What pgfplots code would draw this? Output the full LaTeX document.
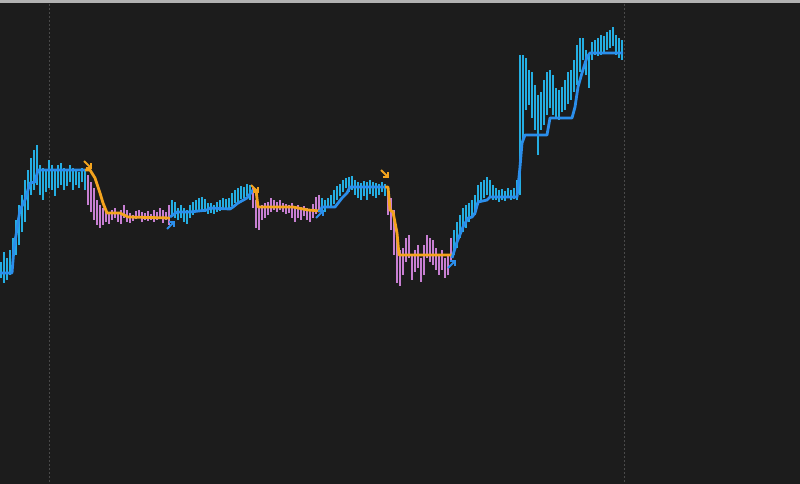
\documentclass[border=0pt]{standalone}
\usepackage{pgfplots}
\usepackage{pgfplotstable}
\pgfplotsset{compat=1.18}
\usetikzlibrary{arrows.meta}
\definecolor{bg}{HTML}{1C1C1C}
\definecolor{cyanb}{HTML}{24AEE2}
\definecolor{violb}{HTML}{C77FD2}
\definecolor{orng}{HTML}{F4A41E}
\definecolor{blu}{HTML}{2B8EEB}
\definecolor{gridc}{HTML}{4A4A4A}

\pgfplotstableread{
x lo hi
1 262 278
4 252 283
7 258 280
10 250 275
13 238 268
16 220 255
19 205 245
22 195 232
25 180 222
28 170 210
31 158 195
34 150 190
37 145 185
40 165 195
43 168 200
46 170 192
49 160 188
52 165 190
55 170 196
58 165 188
61 163 185
64 168 190
67 170 186
70 165 182
73 168 190
76 170 185
79 172 188
82 168 182
85 170 190
172 200 215
175 202 218
178 208 220
181 205 218
184 208 222
187 210 224
190 205 218
193 202 215
196 200 212
199 198 210
202 197 210
205 199 212
208 203 214
211 203 213
214 205 214
217 202 212
220 200 211
223 198 210
226 199 210
229 198 208
232 193 206
235 190 203
238 188 202
241 186 199
244 187 198
247 184 196
250 185 200
322 198 210
325 200 212
328 198 208
331 195 206
334 190 204
337 186 200
340 184 196
343 180 192
346 178 188
349 177 192
352 176 190
355 180 195
358 182 198
361 183 200
364 181 196
367 182 200
370 180 194
373 182 196
376 183 198
379 184 195
382 182 192
385 184 196
454 230 255
457 222 248
460 215 238
463 208 232
466 205 228
469 203 222
472 200 218
475 195 215
478 185 205
481 182 200
484 180 198
487 177 195
490 180 198
493 185 200
496 188 200
499 190 202
502 189 200
505 191 201
508 188 198
511 190 200
514 188 199
517 180 200
520 55 195
523 55 140
526 58 110
529 70 105
532 72 118
535 85 130
538 95 155
541 92 130
544 80 125
547 72 115
550 70 108
553 75 115
556 88 118
559 90 120
562 87 112
565 80 110
568 72 104
571 70 100
574 60 92
577 45 85
580 38 72
583 38 60
586 50 75
589 55 88
592 42 60
595 40 55
598 38 56
601 35 55
604 36 52
607 32 50
610 30 48
613 27 46
616 35 55
619 38 58
622 40 60
}\cyanbars

\pgfplotstableread{
x lo hi
88 175 205
91 182 212
94 188 220
97 200 225
100 205 228
103 208 225
106 210 222
109 212 224
112 210 220
115 208 218
118 212 222
121 210 224
124 205 218
127 210 222
130 213 223
133 215 221
136 211 219
139 210 218
142 212 222
145 213 220
148 211 221
151 214 220
154 210 222
157 212 220
160 208 218
163 210 223
166 212 220
169 205 225
253 188 208
256 200 228
259 208 230
262 205 220
265 203 218
268 202 215
271 198 212
274 200 210
277 202 212
280 200 210
283 203 212
286 204 214
289 205 213
292 203 218
295 207 222
298 205 218
301 207 220
304 206 216
307 208 220
310 210 222
313 204 218
316 197 214
319 195 212
388 188 215
391 198 230
394 210 255
397 235 283
400 250 286
403 248 275
406 238 262
409 235 258
412 255 280
415 250 272
418 245 268
421 258 282
424 245 275
427 235 258
430 238 262
433 240 265
436 248 270
439 255 275
442 250 270
445 258 278
448 255 275
451 238 262
}\violbars

\begin{document}
\begin{tikzpicture}
\begin{axis}[
  scale only axis, width=800pt, height=484pt,
  xmin=0, xmax=800, ymin=0, ymax=484, y dir=reverse,
  axis line style={draw=none}, tick style={draw=none},
  xtick=\empty, ytick=\empty,
  axis background/.style={fill=bg, draw=none},
  clip=true,
]
% grid lines and top border
\addplot[gridc, line width=0.8pt, dash pattern=on 2pt off 2pt] coordinates {(49,0)(49,484)};
\addplot[gridc, line width=0.8pt, dash pattern=on 2pt off 2pt] coordinates {(624,0)(624,484)};
\addplot[black!30, line width=2.6pt] coordinates {(0,1.3)(800,1.3)};

% price bars
\addplot[draw=none, no markers,
  error bars/.cd, y dir=both, y explicit, error mark=none,
  error bar style={draw=cyanb, line width=1.3pt}]
  table[x=x, y expr=(\thisrow{lo}+\thisrow{hi})/2, y error expr=(\thisrow{hi}-\thisrow{lo})/2] {\cyanbars};
\addplot[draw=none, no markers,
  error bars/.cd, y dir=both, y explicit, error mark=none,
  error bar style={draw=violb, line width=1.3pt}]
  table[x=x, y expr=(\thisrow{lo}+\thisrow{hi})/2, y error expr=(\thisrow{hi}-\thisrow{lo})/2] {\violbars};

% trailing stop
\addplot[blu, line width=2.8pt, line join=round] coordinates {(0,273)(12,273)(14,248)(20,210)(25,200)(30,183)(35,182)(38,170)(85,170)};
\addplot[orng, line width=2.8pt, line join=round] coordinates {(85,170)(90,170)(95,178)(100,193)(103,203)(107,213)(120,213)(128,217)(170,218)};
\addplot[blu, line width=2.8pt, line join=round] coordinates {(170,217)(177,212)(190,212)(207,210)(210,208)(230,209)(233,207)(238,203)(247,198)(253,190)};
\addplot[orng, line width=2.8pt, line join=round] coordinates {(253,190)(256,190)(258,207)(293,207)(308,210)(320,211)};
\addplot[blu, line width=2.8pt, line join=round] coordinates {(320,212)(322,207)(335,207)(342,198)(347,193)(350,187)(385,187)};
\addplot[orng, line width=2.8pt, line join=round] coordinates {(385,187)(388,187)(390,210)(393,212)(397,233)(399,255)(452,255)};
\addplot[blu, line width=2.8pt, line join=round] coordinates {(452,258)(457,242)(463,227)(468,218)(472,217)(475,213)(478,202)(487,200)(490,197)(517,197)(520,167)(522,143)(525,135)(547,135)(550,118)(572,118)(575,107)(578,87)(582,73)(587,57)(590,53)(623,53)};

% signal arrows
\addplot[orng, line width=1.8pt, quiver={u=\thisrow{u}, v=\thisrow{v}}, -{Straight Barb[length=3.5pt, width=7pt]}]
  table {
x y u v
84 161 8 8
251 185 8 8
381 170 8 8
};
\addplot[blu, line width=1.8pt, quiver={u=\thisrow{u}, v=\thisrow{v}}, -{Straight Barb[length=3.5pt, width=7pt]}]
  table {
x y u v
167 229 8 -8
316 218 8 -8
448 268 8 -8
};
\end{axis}
\end{tikzpicture}
\end{document}
